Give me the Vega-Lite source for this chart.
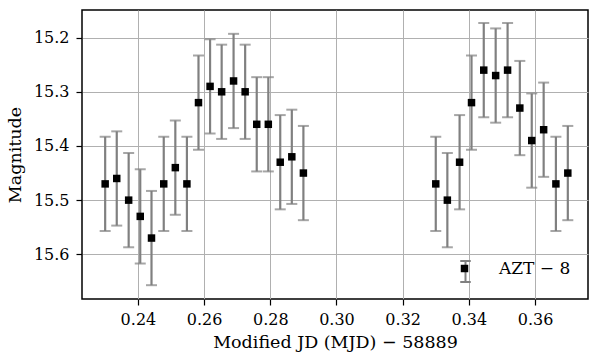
{
  "$schema": "https://vega.github.io/schema/vega-lite/v6.json",
  "width": 506,
  "height": 289,
  "autosize": {"type": "none"},
  "padding": {"left": 82, "top": 10, "right": 1, "bottom": 57},
  "background": "white",
  "config": {
    "font": "DejaVu Serif",
    "style": {"guide-label": {"font": "DejaVu Serif"}, "guide-title": {"font": "DejaVu Serif"}},
    "view": {"stroke": "black", "strokeWidth": 1.5},
    "axis": {
      "domain": false,
      "grid": true,
      "gridColor": "#b0b0b0",
      "gridWidth": 1,
      "tickColor": "black",
      "tickSize": 6,
      "tickWidth": 1.2,
      "labelFont": "DejaVu Serif",
      "labelFontSize": 16,
      "labelColor": "black",
      "titleFont": "DejaVu Serif",
      "titleFontSize": 17.5,
      "titleFontWeight": "normal",
      "titleColor": "black"
    },
    "legend": {"padding": 0, "labelFont": "DejaVu Serif", "labelFontSize": 17, "labelColor": "black"}
  },
  "data": {
    "values": [
      {"x": 0.2301, "y": 15.47, "lo": 15.383, "hi": 15.557, "series": "AZT − 8", "bar": "e"},
      {"x": 0.2336, "y": 15.46, "lo": 15.373, "hi": 15.547, "series": "AZT − 8", "bar": "e"},
      {"x": 0.2372, "y": 15.50, "lo": 15.413, "hi": 15.587, "series": "AZT − 8", "bar": "e"},
      {"x": 0.2407, "y": 15.53, "lo": 15.443, "hi": 15.617, "series": "AZT − 8", "bar": "e"},
      {"x": 0.2441, "y": 15.57, "lo": 15.483, "hi": 15.657, "series": "AZT − 8", "bar": "e"},
      {"x": 0.2478, "y": 15.47, "lo": 15.383, "hi": 15.557, "series": "AZT − 8", "bar": "e"},
      {"x": 0.2513, "y": 15.44, "lo": 15.353, "hi": 15.527, "series": "AZT − 8", "bar": "e"},
      {"x": 0.2548, "y": 15.47, "lo": 15.383, "hi": 15.557, "series": "AZT − 8", "bar": "e"},
      {"x": 0.2583, "y": 15.32, "lo": 15.233, "hi": 15.407, "series": "AZT − 8", "bar": "e"},
      {"x": 0.2618, "y": 15.29, "lo": 15.203, "hi": 15.377, "series": "AZT − 8", "bar": "e"},
      {"x": 0.2653, "y": 15.30, "lo": 15.213, "hi": 15.387, "series": "AZT − 8", "bar": "e"},
      {"x": 0.2689, "y": 15.28, "lo": 15.193, "hi": 15.367, "series": "AZT − 8", "bar": "e"},
      {"x": 0.2724, "y": 15.30, "lo": 15.213, "hi": 15.387, "series": "AZT − 8", "bar": "e"},
      {"x": 0.2759, "y": 15.36, "lo": 15.273, "hi": 15.447, "series": "AZT − 8", "bar": "e"},
      {"x": 0.2794, "y": 15.36, "lo": 15.273, "hi": 15.447, "series": "AZT − 8", "bar": "e"},
      {"x": 0.2830, "y": 15.43, "lo": 15.343, "hi": 15.517, "series": "AZT − 8", "bar": "e"},
      {"x": 0.2865, "y": 15.42, "lo": 15.333, "hi": 15.507, "series": "AZT − 8", "bar": "e"},
      {"x": 0.2900, "y": 15.45, "lo": 15.363, "hi": 15.537, "series": "AZT − 8", "bar": "e"},
      {"x": 0.3300, "y": 15.47, "lo": 15.383, "hi": 15.557, "series": "AZT − 8", "bar": "e"},
      {"x": 0.3335, "y": 15.50, "lo": 15.413, "hi": 15.587, "series": "AZT − 8", "bar": "e"},
      {"x": 0.3372, "y": 15.43, "lo": 15.343, "hi": 15.517, "series": "AZT − 8", "bar": "e"},
      {"x": 0.3408, "y": 15.32, "lo": 15.233, "hi": 15.407, "series": "AZT − 8", "bar": "e"},
      {"x": 0.3445, "y": 15.26, "lo": 15.173, "hi": 15.347, "series": "AZT − 8", "bar": "e"},
      {"x": 0.3481, "y": 15.27, "lo": 15.183, "hi": 15.357, "series": "AZT − 8", "bar": "e"},
      {"x": 0.3517, "y": 15.26, "lo": 15.173, "hi": 15.347, "series": "AZT − 8", "bar": "e"},
      {"x": 0.3554, "y": 15.33, "lo": 15.243, "hi": 15.417, "series": "AZT − 8", "bar": "e"},
      {"x": 0.3590, "y": 15.39, "lo": 15.303, "hi": 15.477, "series": "AZT − 8", "bar": "e"},
      {"x": 0.3626, "y": 15.37, "lo": 15.283, "hi": 15.457, "series": "AZT − 8", "bar": "e"},
      {"x": 0.3663, "y": 15.47, "lo": 15.383, "hi": 15.557, "series": "AZT − 8", "bar": "e"},
      {"x": 0.3699, "y": 15.45, "lo": 15.363, "hi": 15.537, "series": "AZT − 8", "bar": "e"}
    ]
  },
  "layer": [
    {
      "mark": {"type": "rule", "strokeWidth": 2.2},
      "encoding": {
        "x": {"field": "x", "type": "quantitative", "scale": {"domain": [0.2231, 0.376], "nice": false, "zero": false},
              "axis": {"values": [0.24, 0.26, 0.28, 0.30, 0.32, 0.34, 0.36], "format": ".2f", "labelPadding": 6, "titlePadding": 6},
              "title": "Modified JD (MJD) − 58889"},
        "y": {"field": "lo", "type": "quantitative", "scale": {"domain": [15.149, 15.6825], "reverse": true, "nice": false, "zero": false},
              "axis": {"values": [15.2, 15.3, 15.4, 15.5, 15.6], "format": ".1f", "labelPadding": 7, "titlePadding": 9},
              "title": "Magnitude"},
        "y2": {"field": "hi"},
        "color": {"field": "bar", "type": "nominal", "scale": {"range": ["#808080"]},
                  "legend": {"orient": "none", "legendX": 372, "legendY": 250, "title": null, "labelExpr": "''",
                             "symbolType": "M0,-1L0,1M-0.5,-1L0.5,-1M-0.5,1L0.5,1", "symbolSize": 441,
                             "symbolStrokeWidth": 2, "symbolFillColor": "transparent"}}
      }
    },
    {
      "mark": {"type": "tick", "orient": "horizontal", "size": 11, "thickness": 2, "color": "#808080"},
      "encoding": {
        "x": {"field": "x", "type": "quantitative"},
        "y": {"field": "lo", "type": "quantitative"}
      }
    },
    {
      "mark": {"type": "tick", "orient": "horizontal", "size": 11, "thickness": 2, "color": "#808080"},
      "encoding": {
        "x": {"field": "x", "type": "quantitative"},
        "y": {"field": "hi", "type": "quantitative"}
      }
    },
    {
      "mark": {"type": "point", "shape": "square", "filled": true, "size": 56, "opacity": 1},
      "encoding": {
        "x": {"field": "x", "type": "quantitative"},
        "y": {"field": "y", "type": "quantitative"},
        "fill": {"field": "series", "type": "nominal", "scale": {"range": ["black"]},
                 "legend": {"orient": "none", "legendX": 374, "legendY": 250, "title": null,
                            "symbolType": "square", "symbolSize": 56, "symbolStrokeWidth": 0, "labelOffset": 26}}
      }
    }
  ]
}
